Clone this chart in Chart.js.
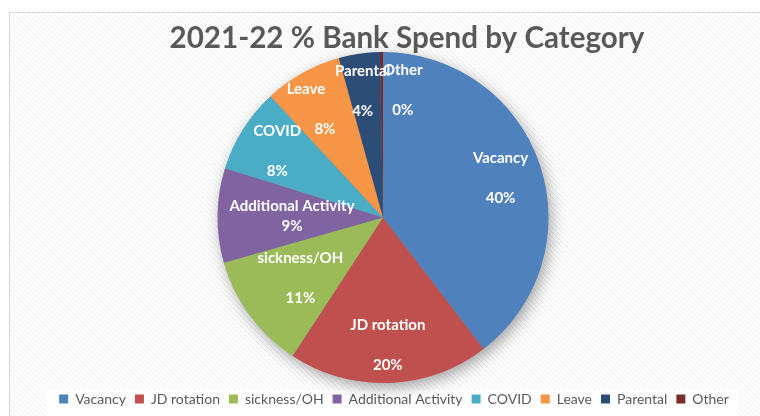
<!DOCTYPE html>
<html>
<head>
<meta charset="utf-8">
<title>2021-22 % Bank Spend by Category</title>
<script src="https://cdn.jsdelivr.net/npm/chart.js@4/dist/chart.umd.min.js"></script>
<style>
  html, body { margin: 0; padding: 0; background: #fff; }
  #wrap { width: 760px; height: 416px; position: relative; }
</style>
</head>
<body>
<div id="wrap"><canvas id="pieChart"></canvas></div>
<script>
/* global Chart */

const titleText = '2021-22 % Bank Spend by Category'
const categories = ['Vacancy', 'JD rotation', 'sickness/OH', 'Additional Activity', 'COVID', 'Leave', 'Parental', 'Other']
const spendShare = [39.6, 19.6, 11.4, 9.2, 8.3, 7.6, 4.0, 0.3]
const sliceColours = ['#4F81BD', '#C0504D', '#9BBB59', '#8064A2', '#4BACC6', '#F79646', '#2C4D75', '#772C2A']

const FONT = 'Lato, "Open Sans", sans-serif'
const GREY = '#595959'

// where each slice label sits: fraction of radius along the mid angle, plus nudges
const labelPlacement = [
  { f: 0.75, gap: 40 },
  { f: 0.77, gap: 40 },
  { f: 0.62, gap: 40 },
  { f: 0.55, gap: 20 },
  { f: 0.755, gap: 40 },
  { f: 0.77, gap: 40, nameDx: -15, pctDx: 4, dy: 3 },
  { f: 0.77, gap: 40, dx: -2 },
  { f: 0.77, gap: 40, dx: 21 }
]

function hatchPattern (ctx) {
  const tile = document.createElement('canvas')
  tile.width = 5
  tile.height = 5
  const t = tile.getContext('2d')
  t.fillStyle = '#ffffff'
  t.fillRect(0, 0, 5, 5)
  t.fillStyle = '#ededed'
  for (let i = 0; i < 5; i++) {
    t.fillRect(i, i, 1, 1)
  }
  return ctx.createPattern(tile, 'repeat')
}

const backdrop = {
  id: 'backdrop',
  afterLayout (chart) {
    // legend row sits a little right of the pie centre
    if (chart.legend) {
      chart.legend.left += 11
      chart.legend.right += 11
    }
  },
  beforeDraw (chart) {
    const { ctx, width, height } = chart
    ctx.save()
    ctx.fillStyle = '#ffffff'
    ctx.fillRect(0, 0, width, height)
    ctx.fillStyle = hatchPattern(ctx)
    ctx.fillRect(9, 12, width - 9, height - 12)
    ctx.strokeStyle = '#d9d9d9'
    ctx.lineWidth = 1
    ctx.strokeRect(9.5, 12.5, width + 10, height + 10)

    // white panel behind the legend
    if (chart.legend) {
      ctx.fillStyle = '#ffffff'
      ctx.fillRect(46, chart.legend.top + 7, 692, height)
    }

    ctx.fillStyle = GREY
    ctx.textAlign = 'center'
    ctx.textBaseline = 'middle'
    let size = 30
    ctx.font = `bold ${size}px ${FONT}`
    size = size * 475 / ctx.measureText(titleText).width
    ctx.font = `bold ${size}px ${FONT}`
    ctx.fillText(titleText, 407, 38)
    ctx.restore()
  }
}

const pieShadow = {
  id: 'pieShadow',
  beforeDatasetsDraw (chart) {
    const arc = chart.getDatasetMeta(0).data[0]
    if (!arc) return
    const { x, y, outerRadius } = arc.getProps(['x', 'y', 'outerRadius'], true)
    const ctx = chart.ctx
    ctx.save()
    ctx.shadowColor = 'rgba(0, 0, 0, 0.38)'
    ctx.shadowBlur = 16
    ctx.shadowOffsetX = 3
    ctx.shadowOffsetY = 5
    ctx.fillStyle = '#8a8a8a'
    ctx.beginPath()
    ctx.arc(x, y, outerRadius - 0.5, 0, Math.PI * 2)
    ctx.fill()
    ctx.restore()
  }
}

const sliceLabels = {
  id: 'sliceLabels',
  afterDatasetsDraw (chart) {
    const ctx = chart.ctx
    const values = chart.data.datasets[0].data
    const total = values.reduce((a, b) => a + b, 0)
    ctx.save()
    ctx.fillStyle = '#ffffff'
    ctx.font = `bold 15px ${FONT}`
    ctx.textAlign = 'center'
    ctx.textBaseline = 'middle'
    chart.getDatasetMeta(0).data.forEach((arc, i) => {
      const p = arc.getProps(['x', 'y', 'startAngle', 'endAngle', 'outerRadius'], true)
      const place = labelPlacement[i]
      const mid = (p.startAngle + p.endAngle) / 2
      const ax = p.x + Math.cos(mid) * p.outerRadius * place.f + (place.dx || 0)
      const ay = p.y + Math.sin(mid) * p.outerRadius * place.f + (place.dy || 0)
      const pct = Math.round(values[i] / total * 100) + '%'
      ctx.fillText(chart.data.labels[i], ax + (place.nameDx || 0), ay - place.gap / 2)
      ctx.fillText(pct, ax + (place.pctDx || 0), ay + place.gap / 2)
    })
    ctx.restore()
  }
}

const ctx = document.getElementById('pieChart').getContext('2d')
new Chart(ctx, {
  type: 'pie',
  data: {
    labels: categories,
    datasets: [{
      data: spendShare,
      backgroundColor: sliceColours,
      borderWidth: 0
    }]
  },
  options: {
    responsive: true,
    maintainAspectRatio: false,
    animation: false,
    layout: {
      padding: { top: 52, bottom: 0, left: 6, right: 0 }
    },
    plugins: {
      title: { display: false },
      tooltip: { enabled: false },
      legend: {
        position: 'bottom',
        labels: {
          color: GREY,
          font: { family: FONT, size: 14 },
          boxWidth: 9,
          boxHeight: 9,
          padding: 9
        }
      }
    }
  },
  plugins: [backdrop, pieShadow, sliceLabels]
})
</script>
</body>
</html>
